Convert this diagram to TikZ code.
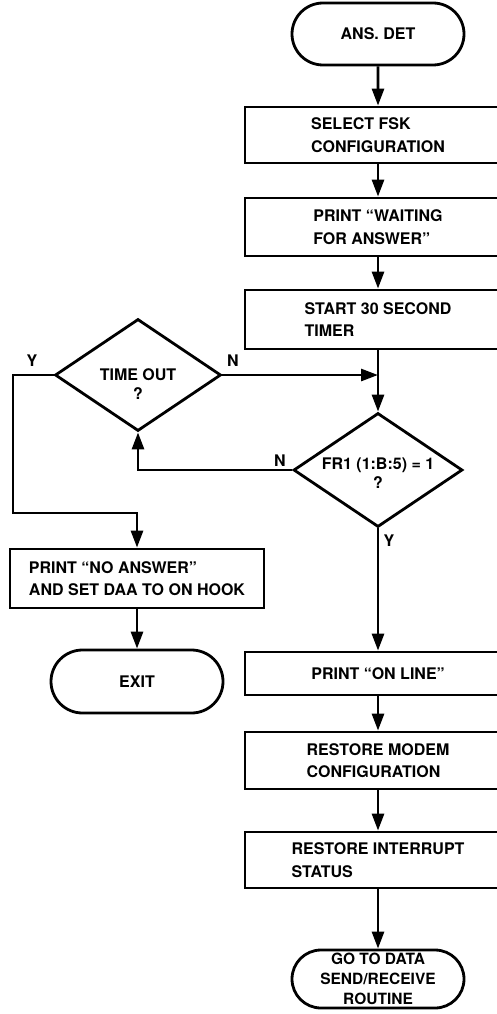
\documentclass[tikz,border=0pt]{standalone}
\usepackage{fontspec}
\setmainfont{TeX Gyre Heros}
\usetikzlibrary{shapes.geometric,shapes.misc,arrows.meta}
\begin{document}
\begin{tikzpicture}[x=1pt,y=-1pt,
  every node/.style={font=\fontsize{16}{22.5}\selectfont\bfseries},
  flow/.style={line width=2.8pt, -{Triangle[length=17pt,width=12pt]}},
  procbox/.style={draw, line width=2.8pt, rectangle, align=left, inner sep=0pt, minimum width=266pt},
  termbox/.style={draw, line width=2.8pt, rounded rectangle, align=center, inner sep=0pt, minimum width=172pt},
  decision/.style={draw, line width=2.8pt, diamond, inner sep=0pt},
  qtext/.style={align=center, inner sep=0pt, font=\fontsize{16}{19.5}\selectfont\bfseries},
  tag/.style={inner sep=0pt}
]
\useasboundingbox (0,0) rectangle (496,1014);

% main column
\node[termbox, minimum height=62pt] (ans) at (378,34) {ANS. DET};
\node[procbox, minimum height=56pt] (sel) at (378,135) {SELECT FSK\\CONFIGURATION};
\node[procbox, minimum height=58pt] (wait) at (378,227) {PRINT “WAITING\\FOR ANSWER”};
\node[procbox, minimum height=59pt] (start) at (378,319.5) {START 30 SECOND\\TIMER};
\coordinate (join) at (378,375);
\node[decision, minimum width=169pt, minimum height=114pt,
  label={[qtext, yshift=-3pt]center:{FR1 (1:B:5) = 1\\?}}] (fr1) at (378,470) {};
\node[procbox, minimum height=43pt] (online) at (378,673.5) {PRINT “ON LINE”};
\node[procbox, minimum height=57pt] (modem) at (378,760.5) {RESTORE MODEM\\CONFIGURATION};
\node[procbox, minimum height=56pt] (intr) at (378,860) {RESTORE INTERRUPT\\STATUS};
\node[termbox, minimum height=58pt, font=\fontsize{15.5}{20}\selectfont\bfseries] (goto) at (378,979) {GO TO DATA\\SEND/RECEIVE\\ROUTINE};

% time-out branch
\node[decision, minimum width=166pt, minimum height=112pt,
  label={[qtext, yshift=-9pt]center:{TIME OUT\\?}}] (tout) at (138,375) {};
\coordinate (yl) at (13,375);
\coordinate (yb) at (13,513);
\node[procbox, minimum width=254pt, minimum height=59pt] (noans) at (137,578.5) {PRINT “NO ANSWER”\\AND SET DAA TO ON HOOK};
\node[termbox, minimum height=63pt] (exit) at (137,681.5) {EXIT};

% branch labels
\node[tag] (ty) at (32,361) {Y};
\node[tag] (tn) at (233,361) {N};
\node[tag] (fn) at (280,461) {N};
\node[tag] (fy) at (389,541) {Y};

% connectors
\draw[flow] (ans) -- (sel);
\draw[flow] (sel) -- (wait);
\draw[flow] (wait) -- (start);
\draw[flow] (start) -- (fr1.north);
\draw[flow] (tout.east) -- (join);
\draw[flow] (fr1.west) -| (tout.south);
\draw[flow] (tout.west) -- (yl) -- (yb) -| (noans.north);
\draw[flow] (noans) -- (exit);
\draw[flow] (fr1.south) -- (online);
\draw[flow] (online) -- (modem);
\draw[flow] (modem) -- (intr);
\draw[flow] (intr) -- (goto);
\end{tikzpicture}
\end{document}
